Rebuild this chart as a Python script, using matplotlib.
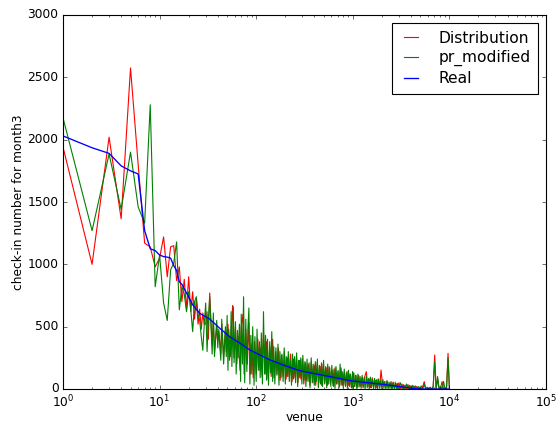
import matplotlib
matplotlib.use('Agg')
import matplotlib.pyplot as plt

plt.style.use('classic')
plt.rcParams['font.size'] = 11

# head: ranks 1..29, one value per venue
head_rank = list(range(1, 30))
head_dist = [1940, 1000, 2020, 1365, 2575, 1800, 1170, 1140, 980, 1050,
             1220, 900, 1140, 1150, 870, 980, 700, 880, 640, 900,
             620, 780, 560, 720, 520, 640, 480, 610, 520]
head_pr = [2175, 1270, 1885, 1440, 1900, 1460, 1330, 2280, 820, 1075,
           690, 550, 955, 1010, 1180, 635, 820, 760, 620, 780,
           640, 460, 700, 740, 600, 550, 420, 310, 520]

# Distribution tail: sampled venues from rank 30 to 10^4
dist_rank = [30, 31, 32, 33, 35, 36, 37, 39, 40, 41, 43, 44, 46, 48, 49, 51, 53, 55, 57, 59,
             61, 63, 65, 68, 70, 73, 75, 78, 81, 84, 87, 90, 93, 96,
             100, 104, 107, 111, 115, 119, 124, 128, 133, 138, 143, 148, 153, 159, 164, 170,
             177, 183, 190, 196,
             204, 211, 219, 226, 235, 243, 252, 261, 270, 280, 290, 300, 311, 323, 334, 346,
             359, 372, 385, 399,
             413, 428, 444, 460, 476, 494, 511, 530, 549, 569, 589, 611, 633, 655, 679, 704,
             729, 755, 783, 811,
             840, 870, 902, 934, 968,
             1000, 1040, 1070, 1110, 1150, 1190, 1240, 1280, 1330, 1380, 1430, 1480, 1530, 1590,
             1640, 1700, 1770, 1830, 1900, 1960,
             2040, 2110, 2190, 2260, 2350, 2430, 2520, 2610, 2700, 2800, 2900, 3000, 3110, 3230,
             3340, 3460, 3590, 3720, 3850, 3990,
             4130, 4280, 4440, 4600, 4760, 4940, 5110, 5300, 5490, 5690, 5890, 6110, 6330, 6550,
             6790, 7040, 7290, 7550, 7830, 8110,
             8400, 8700, 9020, 9340, 9680, 10000]
dist_tail = [520, 620, 400, 770, 350, 540, 300, 500, 380, 460, 280, 520, 260, 470, 300, 520, 230, 450, 670, 250,
             500, 200, 420, 150, 500, 600, 120, 480, 200, 530, 120, 360, 90, 380,
             120, 400, 150, 330, 100, 450, 120, 380, 80, 340, 100, 400, 90, 300, 120, 330,
             70, 270, 100, 300,
             80, 250, 100, 280, 60, 240, 90, 260, 50, 230, 80, 240, 40, 210, 70, 200,
             30, 220, 50, 190,
             30, 210, 50, 180, 30, 200, 40, 170, 30, 180, 50, 150, 20, 170, 40, 140,
             20, 170, 30, 130,
             20, 140, 30, 120, 10,
             130, 20, 110, 10, 110, 20, 90, 10, 100, 139, 20, 80, 10, 90,
             20, 70, 10, 80, 20, 152,
             20, 60, 10, 65, 10, 50, 5, 55, 5, 45, 0, 50, 0, 40,
             0, 30, 0, 35, 0, 25,
             0, 25, 0, 20, 0, 15, 0, 20, 59, 0, 10, 0, 15, 0,
             10, 273, 0, 80, 0, 10,
             59, 0, 10, 0, 286, 0]

# pr_modified tail, sampled more densely
pr_rank = [30, 31, 32, 33, 35, 36, 37, 39, 40, 41, 43, 44, 46, 48, 49,
           50, 51, 52, 54, 55, 56, 58, 59, 61, 62, 64, 65, 67, 69, 70, 72, 74, 76, 78, 80,
           82, 84, 86, 88, 90, 92, 95, 97,
           100, 102, 105, 108, 110, 113, 116, 119, 122, 125, 128, 131, 134, 138, 141, 145,
           148, 152, 156, 160, 164, 168, 172, 176, 181, 185, 190, 195, 200, 205, 210, 215,
           220, 226, 232, 237, 243, 249, 256, 262, 269, 275, 282, 289, 297, 304, 312, 319,
           327, 336, 344, 353, 361, 371, 380, 389, 399, 409, 419, 430, 440, 451, 463, 474,
           486, 498, 511, 524, 537, 550, 564, 578, 592, 607, 622, 638, 654, 670, 687, 704,
           721, 739, 758, 777, 796, 816, 836, 857, 879, 901, 923, 946, 970, 994,
           1000, 1025, 1050, 1080, 1100, 1130, 1160, 1190, 1220, 1250, 1280, 1310, 1340, 1380,
           1410, 1450, 1480, 1520, 1560, 1600, 1640, 1680, 1720, 1760, 1810, 1850, 1900, 1950,
           2000, 2050, 2100, 2150, 2200, 2260, 2320, 2370, 2430, 2490, 2560, 2620, 2690, 2750,
           2820, 2890, 2970,
           3110, 3230, 3340, 3460, 3590, 3720, 3850, 3990,
           4130, 4280, 4440, 4600, 4760, 4940, 5110, 5300, 5490, 5690, 5890, 6110, 6330, 6550,
           6790, 7040, 7290, 7550, 7830, 8110,
           8400, 8700, 9020, 9340, 9680, 10000]
pr_tail = [690, 300, 560, 740, 280, 610, 260, 550, 330, 480, 230, 560, 200, 500, 260,
           590, 150, 480, 260, 620, 180, 660, 210, 540, 120, 470, 250, 520, 60, 600, 200, 740, 50, 560, 140,
           480, 650, 40, 430, 120, 500, 30, 420,
           60, 480, 150, 380, 90, 450, 40, 620, 120, 430, 70, 400, 30, 380, 130, 460,
           60, 340, 40, 330, 110, 360, 30, 300, 90, 280, 60, 330, 40, 260, 100, 300,
           60, 240, 30, 280, 80, 260, 50, 290, 20, 230, 90, 250, 40, 270, 70, 220,
           20, 240, 60, 210, 10, 250, 50, 200, 30, 220, 60, 240, 10, 190, 40, 210,
           20, 230, 50, 180, 10, 200, 40, 170, 20, 190, 30, 160, 5, 180, 40, 150,
           10, 200, 30, 140, 10, 160, 30, 130, 5, 150, 20, 120, 10, 140,
           5, 130, 20, 110, 0, 120, 15, 100, 5, 110, 20, 90, 0, 100,
           10, 85, 0, 95, 10, 80, 0, 85, 5, 75, 0, 80, 5, 70,
           0, 75, 5, 60, 0, 65, 0, 55, 5, 60, 0, 50, 0, 55,
           0, 45, 0,
           50, 0, 35, 0, 40, 0, 30, 0,
           30, 0, 25, 0, 20, 0, 25, 0, 40, 0, 15, 0, 10, 0,
           20, 220, 0, 100, 0, 20,
           0, 60, 0, 10, 250, 0]

real_rank = [1, 2, 3, 4, 5, 6, 7, 8, 9, 10, 11, 12, 13, 14, 15, 16, 17, 19, 22, 26,
             33, 42, 53, 68, 86, 109, 139, 190, 282, 420, 630, 935, 1400, 2000, 3070, 4200,
             5000, 10000]
real = [2030, 1935, 1890, 1790, 1750, 1725, 1270, 1125, 1110, 1075, 1062, 1058, 1050, 990, 950,
        860, 840, 770, 675, 607, 561, 487, 420, 367, 313, 273, 233, 193, 147, 120, 94, 67,
        51, 38, 19, 5, 0, 0]

fig = plt.figure(figsize=(558 / 80.0, 425 / 80.0), dpi=80)
ax = fig.add_axes([63 / 558.0, 36 / 425.0, 483 / 558.0, 374 / 425.0])

ax.plot(head_rank + dist_rank, head_dist + dist_tail, 'r-', label='Distribution')
ax.plot(head_rank + pr_rank, head_pr + pr_tail, 'g-', label='pr_modified')
ax.plot(real_rank, real, 'b-', lw=1.2, label='Real')

ax.set_xscale('log')
ax.set_xlim(1, 1e5)
ax.set_ylim(0, 3000)
ax.set_xlabel('venue', labelpad=1)
ax.set_ylabel('check-in number for month3', labelpad=2)
ax.legend(loc='upper right', fontsize=14, handlelength=1.5, handletextpad=1.0,
          labelspacing=0.3, borderpad=0.5, borderaxespad=0.5)

fig.savefig('out.png', dpi=80)
